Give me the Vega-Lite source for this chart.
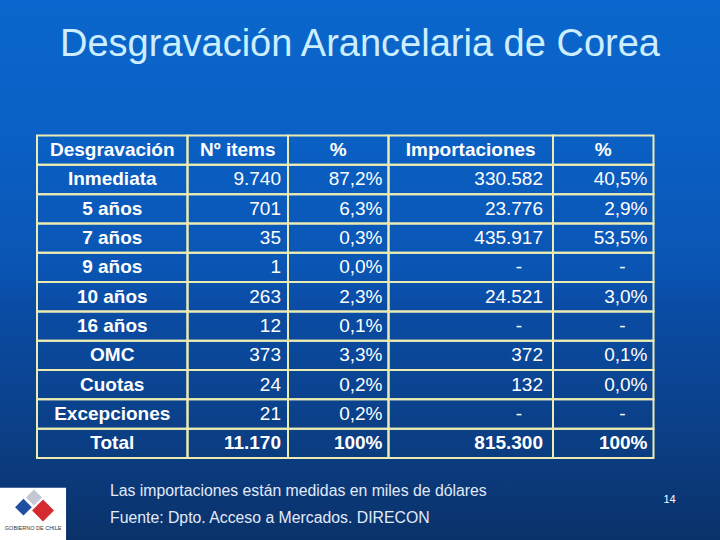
{
  "$schema": "https://vega.github.io/schema/vega-lite/v6.json",
  "width": 720,
  "height": 540,
  "padding": 0,
  "autosize": {"type": "none"},
  "background": "#0a4a9a",
  "config": {"view": {"stroke": null}, "font": "Liberation Sans"},
  "title": {
    "text": "Desgravación Arancelaria de Corea",
    "fontSize": 38,
    "fontWeight": "normal",
    "font": "Liberation Sans",
    "color": "#cdeeff",
    "anchor": "middle",
    "frame": "group",
    "offset": -94,
    "baseline": "alphabetic",
    "zindex": 1
  },
  "datasets": {
    "table": [
      {"r": 0, "label": "Desgravación", "items": "Nº items", "pct1": "%", "imp": "Importaciones", "pct2": "%"},
      {"r": 1, "label": "Inmediata", "items": "9.740", "pct1": "87,2%", "imp": "330.582", "pct2": "40,5%"},
      {"r": 2, "label": "5 años", "items": "701", "pct1": "6,3%", "imp": "23.776", "pct2": "2,9%"},
      {"r": 3, "label": "7 años", "items": "35", "pct1": "0,3%", "imp": "435.917", "pct2": "53,5%"},
      {"r": 4, "label": "9 años", "items": "1", "pct1": "0,0%", "imp": "-", "pct2": "-"},
      {"r": 5, "label": "10 años", "items": "263", "pct1": "2,3%", "imp": "24.521", "pct2": "3,0%"},
      {"r": 6, "label": "16 años", "items": "12", "pct1": "0,1%", "imp": "-", "pct2": "-"},
      {"r": 7, "label": "OMC", "items": "373", "pct1": "3,3%", "imp": "372", "pct2": "0,1%"},
      {"r": 8, "label": "Cuotas", "items": "24", "pct1": "0,2%", "imp": "132", "pct2": "0,0%"},
      {"r": 9, "label": "Excepciones", "items": "21", "pct1": "0,2%", "imp": "-", "pct2": "-"},
      {"r": 10, "label": "Total", "items": "11.170", "pct1": "100%", "imp": "815.300", "pct2": "100%"}
    ],
    "notes": [
      {"k": 1, "note": "Las importaciones están medidas en miles de dólares"},
      {"k": 2, "note": "Fuente: Dpto. Acceso a Mercados. DIRECON"}
    ],
    "page": [
      {"page": "14"}
    ],
    "logo": [
      {"org": "GOBIERNO DE CHILE"}
    ]
  },
  "resolve": {"scale": {"y": "independent"}},
  "layer": [
    {
      "data": {"values": [{}]},
      "mark": {
        "type": "rect",
        "fill": {
          "gradient": "linear", "x1": 0, "y1": 0, "x2": 0, "y2": 1,
          "stops": [
            {"offset": 0, "color": "#0a67cd"},
            {"offset": 0.25, "color": "#0a60c4"},
            {"offset": 0.5, "color": "#0a55b3"},
            {"offset": 0.56, "color": "#0a4da6"},
            {"offset": 0.8, "color": "#0b3f86"},
            {"offset": 1, "color": "#0a326a"}
          ]
        }
      },
      "encoding": {}
    },
    {
      "data": {"name": "table"},
      "layer": [
        {
          "mark": {"type": "rect", "fillOpacity": 0, "stroke": "#ecebb4", "strokeWidth": 2},
          "encoding": {
            "x": {"datum": 0, "axis": null, "scale": {"type": "linear", "domain": [0, 1, 2, 3, 4, 5], "range": [37, 187.5, 288, 388.5, 553, 653.5], "zero": false, "nice": false}},
            "x2": {"datum": 1},
            "y": {"field": "r", "type": "ordinal", "axis": null, "scale": {"type": "band", "domain": [0, 1, 2, 3, 4, 5, 6, 7, 8, 9, 10], "range": [135.5, 458], "paddingInner": 0, "paddingOuter": 0}}
          }
        },
        {
          "mark": {"type": "rect", "fillOpacity": 0, "stroke": "#ecebb4", "strokeWidth": 2},
          "encoding": {"x": {"datum": 1, "axis": null}, "x2": {"datum": 2}, "y": {"field": "r", "type": "ordinal", "axis": null}}
        },
        {
          "mark": {"type": "rect", "fillOpacity": 0, "stroke": "#ecebb4", "strokeWidth": 2},
          "encoding": {"x": {"datum": 2, "axis": null}, "x2": {"datum": 3}, "y": {"field": "r", "type": "ordinal", "axis": null}}
        },
        {
          "mark": {"type": "rect", "fillOpacity": 0, "stroke": "#ecebb4", "strokeWidth": 2},
          "encoding": {"x": {"datum": 3, "axis": null}, "x2": {"datum": 4}, "y": {"field": "r", "type": "ordinal", "axis": null}}
        },
        {
          "mark": {"type": "rect", "fillOpacity": 0, "stroke": "#ecebb4", "strokeWidth": 2},
          "encoding": {"x": {"datum": 4, "axis": null}, "x2": {"datum": 5}, "y": {"field": "r", "type": "ordinal", "axis": null}}
        },
        {
          "mark": {"type": "text", "align": "center", "baseline": "middle", "fontSize": 19, "fontWeight": "bold", "fill": "#ffffff"},
          "encoding": {"x": {"datum": 0.5, "axis": null}, "y": {"field": "r", "type": "ordinal", "axis": null}, "text": {"field": "label"}}
        },
        {
          "transform": [{"filter": "datum.r === 0"}],
          "mark": {"type": "text", "align": "center", "baseline": "middle", "fontSize": 19, "fontWeight": "bold", "fill": "#ffffff"},
          "encoding": {"x": {"datum": 1.5, "axis": null}, "y": {"field": "r", "type": "ordinal", "axis": null}, "text": {"field": "items"}}
        },
        {
          "transform": [{"filter": "datum.r > 0"}],
          "mark": {"type": "text", "align": "right", "baseline": "middle", "fontSize": 19, "fill": "#ffffff", "dx": -7, "fontWeight": {"expr": "datum.r === 10 ? 'bold' : 'normal'"}},
          "encoding": {"x": {"datum": 2, "axis": null}, "y": {"field": "r", "type": "ordinal", "axis": null}, "text": {"field": "items"}}
        },
        {
          "transform": [{"filter": "datum.r === 0"}],
          "mark": {"type": "text", "align": "center", "baseline": "middle", "fontSize": 19, "fontWeight": "bold", "fill": "#ffffff"},
          "encoding": {"x": {"datum": 2.5, "axis": null}, "y": {"field": "r", "type": "ordinal", "axis": null}, "text": {"field": "pct1"}}
        },
        {
          "transform": [{"filter": "datum.r > 0"}],
          "mark": {"type": "text", "align": "right", "baseline": "middle", "fontSize": 19, "fill": "#ffffff", "dx": -6, "fontWeight": {"expr": "datum.r === 10 ? 'bold' : 'normal'"}},
          "encoding": {"x": {"datum": 3, "axis": null}, "y": {"field": "r", "type": "ordinal", "axis": null}, "text": {"field": "pct1"}}
        },
        {
          "transform": [{"filter": "datum.r === 0"}],
          "mark": {"type": "text", "align": "center", "baseline": "middle", "fontSize": 19, "fontWeight": "bold", "fill": "#ffffff"},
          "encoding": {"x": {"datum": 3.5, "axis": null}, "y": {"field": "r", "type": "ordinal", "axis": null}, "text": {"field": "imp"}}
        },
        {
          "transform": [{"filter": "datum.r > 0"}],
          "mark": {"type": "text", "align": "right", "baseline": "middle", "fontSize": 19, "fill": "#ffffff", "dx": {"expr": "datum.imp === '-' ? -31 : -10"}, "fontWeight": {"expr": "datum.r === 10 ? 'bold' : 'normal'"}},
          "encoding": {"x": {"datum": 4, "axis": null}, "y": {"field": "r", "type": "ordinal", "axis": null}, "text": {"field": "imp"}}
        },
        {
          "transform": [{"filter": "datum.r === 0"}],
          "mark": {"type": "text", "align": "center", "baseline": "middle", "fontSize": 19, "fontWeight": "bold", "fill": "#ffffff"},
          "encoding": {"x": {"datum": 4.5, "axis": null}, "y": {"field": "r", "type": "ordinal", "axis": null}, "text": {"field": "pct2"}}
        },
        {
          "transform": [{"filter": "datum.r > 0"}],
          "mark": {"type": "text", "align": "right", "baseline": "middle", "fontSize": 19, "fill": "#ffffff", "dx": {"expr": "datum.pct2 === '-' ? -28 : -6"}, "fontWeight": {"expr": "datum.r === 10 ? 'bold' : 'normal'"}},
          "encoding": {"x": {"datum": 5, "axis": null}, "y": {"field": "r", "type": "ordinal", "axis": null}, "text": {"field": "pct2"}}
        }
      ]
    },
    {
      "layer": [
        {
          "data": {"name": "notes"},
          "mark": {"type": "text", "align": "left", "baseline": "middle", "fontSize": 15.8, "fill": "#e2eafa", "dx": 73},
          "encoding": {
            "x": {"datum": 0, "axis": null},
            "y": {"field": "k", "type": "quantitative", "axis": null, "scale": {"type": "linear", "domain": [0, 2], "range": [463.5, 517.5], "zero": false, "nice": false}},
            "text": {"field": "note"}
          }
        },
        {
          "data": {"name": "page"},
          "mark": {"type": "text", "align": "center", "baseline": "middle", "fontSize": 11, "fill": "#ffffff", "dx": 16},
          "encoding": {
            "x": {"datum": 5, "axis": null},
            "y": {"datum": 1.37, "axis": null},
            "text": {"field": "page"}
          }
        },
        {
          "data": {"name": "logo"},
          "mark": {"type": "rect", "fill": "#ffffff"},
          "encoding": {
            "x": {"datum": -0.246, "axis": null},
            "x2": {"datum": 0.193},
            "y": {"datum": 0.9, "axis": null},
            "y2": {"datum": 2.9}
          }
        },
        {
          "data": {"name": "logo"},
          "mark": {"type": "point", "shape": "diamond", "filled": true, "size": 260, "color": "#c4c8d4", "opacity": 1},
          "encoding": {"x": {"datum": -0.02, "axis": null}, "y": {"datum": 1.26, "axis": null}}
        },
        {
          "data": {"name": "logo"},
          "mark": {"type": "point", "shape": "diamond", "filled": true, "size": 280, "color": "#1f4fa3", "opacity": 1},
          "encoding": {"x": {"datum": -0.09, "axis": null}, "y": {"datum": 1.62, "axis": null}}
        },
        {
          "data": {"name": "logo"},
          "mark": {"type": "point", "shape": "diamond", "filled": true, "size": 480, "color": "#d42a30", "opacity": 1},
          "encoding": {"x": {"datum": 0.04, "axis": null}, "y": {"datum": 1.74, "axis": null}}
        },
        {
          "data": {"name": "logo"},
          "mark": {"type": "text", "align": "center", "baseline": "middle", "fontSize": 5.5, "fill": "#333333"},
          "encoding": {"x": {"datum": -0.026, "axis": null}, "y": {"datum": 2.4, "axis": null}, "text": {"field": "org"}}
        }
      ]
    }
  ]
}
